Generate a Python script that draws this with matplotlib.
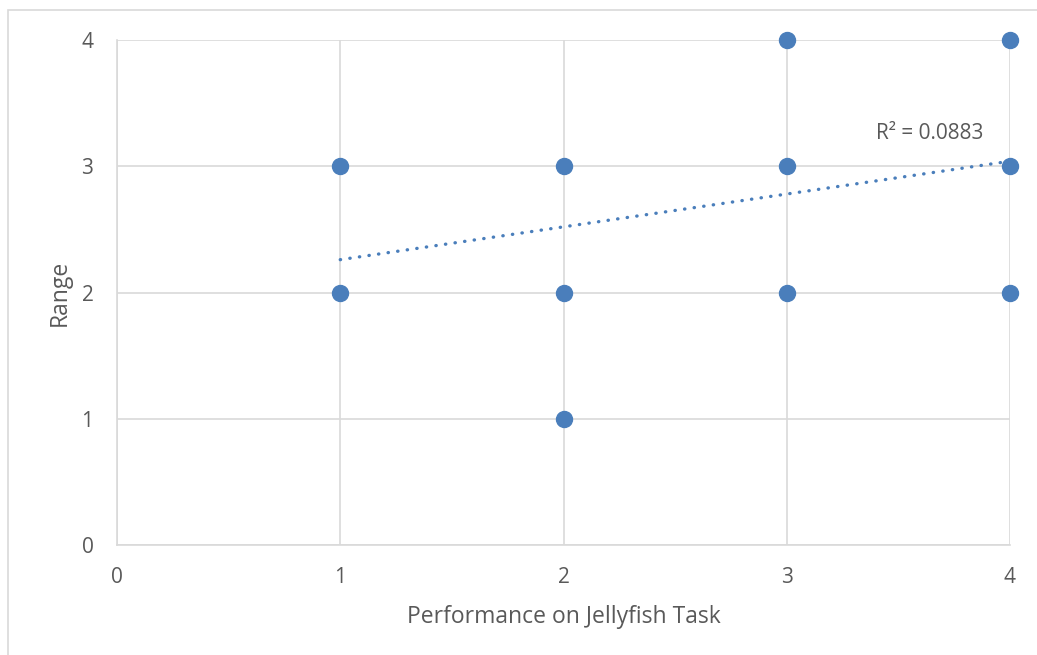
import matplotlib.pyplot as plt
from matplotlib.patches import Rectangle
from numpy import array

# data
perf = [1, 1, 2, 2, 2, 3, 3, 3, 4, 4, 4]
rng = [3, 2, 3, 2, 1, 4, 3, 2, 4, 3, 2]
trend_slope = 0.26
trend_icept = 2.0
r2_text = 'R² = 0.0883'

blue = '#4a7ebb'
grey_txt = '#595959'
grid_c = '#d9d9d9'

plt.rcParams['font.family'] = ['Open Sans', 'DejaVu Sans']

fig = plt.figure(figsize=(10.37, 6.55), dpi=100)
ax = fig.add_axes([117 / 1037, 110 / 655, 893 / 1037, 505 / 655])

ax.set_xlim(0, 4)
ax.set_ylim(0, 4)
ax.set_xticks(range(5))
ax.set_yticks(range(5))
ax.grid(True, color=grid_c, lw=1.2)
ax.set_axisbelow(True)

for s in ['top', 'right']:
    ax.spines[s].set_visible(False)
for s in ['left', 'bottom']:
    ax.spines[s].set_color(grid_c)
    ax.spines[s].set_linewidth(1.2)
ax.tick_params(length=0, labelsize=15, colors=grey_txt)
ax.tick_params(axis='x', pad=16)
ax.tick_params(axis='y', pad=17)

# linear trendline
tx = array([min(perf), max(perf)])
ax.plot(tx, trend_icept + trend_slope * tx, ls=(0, (0.1, 2.8)), lw=2.4, color=blue,
        dash_capstyle='round', zorder=2)

ax.plot(perf, rng, 'o', ms=11.5, color=blue, zorder=3, clip_on=False)

ax.text(3.64, 3.26, r2_text, ha='center', va='center', fontsize=15, color=grey_txt)

ax.set_xlabel('Performance on Jellyfish Task', fontsize=16.5, color=grey_txt, labelpad=12)
ax.set_ylabel('Range', fontsize=16.5, color=grey_txt, labelpad=7)

# chart area frame
fig.add_artist(Rectangle((8 / 1037, -0.1), 1.0, (645 / 655) + 0.1,
                         transform=fig.transFigure, fill=False, ec=grid_c, lw=1.2))

fig.savefig('out.png', dpi=100)
